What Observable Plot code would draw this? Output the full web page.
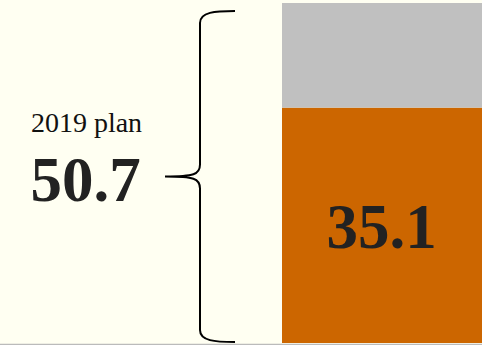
<!DOCTYPE html>
<html>
<head>
<meta charset="utf-8">
<script src="https://cdn.jsdelivr.net/npm/d3@7"></script>
<script src="https://cdn.jsdelivr.net/npm/@observablehq/plot@0.6"></script>
<style>
  html, body { margin: 0; padding: 0; background: #fffff2; }
  #chart svg { display: block; }
</style>
</head>
<body>
<div id="chart"></div>
<script>
// Data
const categories = ["2019"];
const parts = ["achieved", "remaining"];
const achieved = [35.1];
const planTotal = [50.7];
const planLabel = "2019 plan";
const partColors = ["#cc6600", "#c0c0c0"];

const rows = categories.flatMap((c, i) => [
  {cat: c, part: parts[0], value: achieved[i]},
  {cat: c, part: parts[1], value: planTotal[i] - achieved[i]}
]);

const fmt = d3.format(".1f");

// Curly brace mark drawn from the y scale
function brace(index, scales, values, dimensions) {
  const y0 = scales.y(planTotal[0]) + 8;
  const y1 = scales.y(0) - 1;
  const ym = (y0 + y1) / 2;
  const xr = scales.x(categories[0]) - 47; // arm end
  const xv = xr - 35; // vertical stroke
  const xt = xv - 35; // tip
  const r = 12;
  const p = d3.path();
  p.moveTo(xr, y0);
  p.bezierCurveTo(xr - 20, y0, xv, y0 + 1, xv, y0 + r);
  p.lineTo(xv, ym - r);
  p.bezierCurveTo(xv, ym - 2, xv - 6, ym, xt, ym);
  p.bezierCurveTo(xv - 6, ym, xv, ym + 2, xv, ym + r);
  p.lineTo(xv, y1 - r);
  p.bezierCurveTo(xv, y1 - 1, xr - 20, y1, xr, y1);
  const svg = d3.create("svg:path")
    .attr("d", p.toString())
    .attr("fill", "none")
    .attr("stroke", "#000")
    .attr("stroke-width", 2);
  return svg.node();
}

const chart = Plot.plot({
  width: 482,
  height: 345,
  margin: 0,
  style: {background: "#fffff2", fontFamily: "'Liberation Serif', 'Times New Roman', serif"},
  x: {type: "band", domain: categories, range: [282, 484], padding: 0, axis: null},
  y: {domain: [0, planTotal[0]], range: [343, 3], axis: null},
  color: {domain: parts, range: partColors},
  marks: [
    Plot.barY(rows, Plot.stackY({x: "cat", y: "value", fill: "part", order: parts})),
    Plot.ruleY([0], {stroke: "#bbbbbb", dy: 1, strokeWidth: 1.5}),
    brace,
    Plot.text(achieved, {
      x: () => categories[0], y: d => d / 2, text: d => fmt(d),
      fontSize: 63, fontWeight: "bold", fill: "#222", dy: 2, dx: -2
    }),
    Plot.text(planTotal, {
      frameAnchor: "left", dx: 86, y: d => d / 2, text: () => planLabel,
      fontSize: 28, fill: "#111", dy: -50, textAnchor: "middle"
    }),
    Plot.text(planTotal, {
      frameAnchor: "left", dx: 85, y: d => d / 2, text: d => fmt(d),
      fontSize: 63, fontWeight: "bold", fill: "#222", dy: 7, textAnchor: "middle"
    })
  ]
});
document.getElementById("chart").append(chart);
</script>
</body>
</html>
